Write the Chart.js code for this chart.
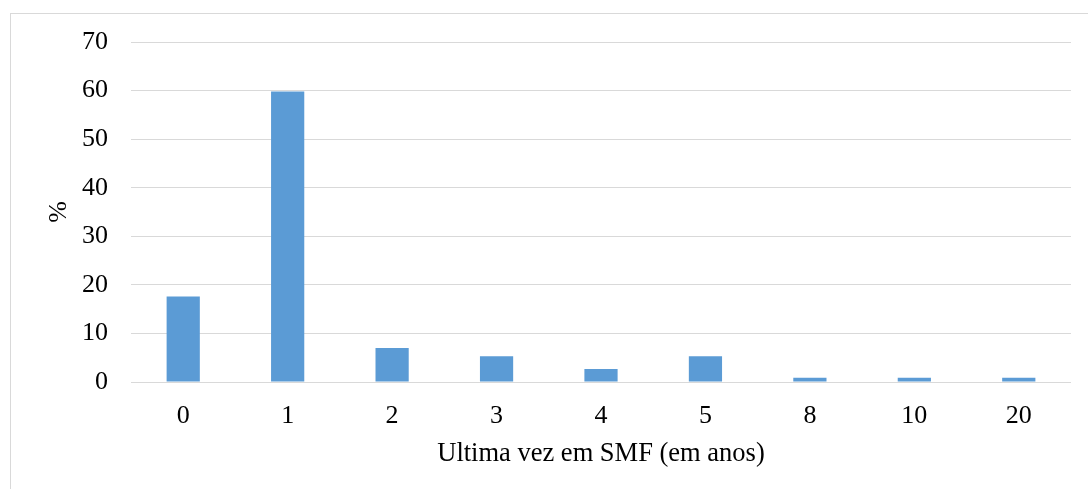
<!DOCTYPE html>
<html>
<head>
<meta charset="utf-8">
<script src="https://cdn.jsdelivr.net/npm/chart.js@4"></script>
<style>
  body { margin: 0; background: #fff; overflow: hidden; }
  #wrap { position: absolute; left: 0; top: 0; width: 1088px; height: 489px; }
  #frame { position: absolute; left: 10px; top: 13px; width: 1100px; height: 500px; border: 1px solid #d9d9d9; pointer-events: none; }
</style>
</head>
<body>
<div id="wrap"><canvas id="myChart" width="1088" height="489"></canvas></div>
<div id="frame"></div>
<script>
// years since last visit, share of respondents (%)
const years = ['0', '1', '2', '3', '4', '5', '8', '10', '20'];
const percent = [17.6, 59.8, 7.0, 5.3, 2.7, 5.3, 0.9, 0.9, 0.9];
const yTicks = [0, 10, 20, 30, 40, 50, 60, 70];

const serif = 'Liberation Serif, Times New Roman, serif';

const ctx = document.getElementById('myChart').getContext('2d');
const myChart = new Chart(ctx, {
    type: 'bar',
    data: {
        labels: years,
        datasets: [{
            label: '%',
            data: percent,
            backgroundColor: '#5b9bd5',
            borderWidth: 0,
            categoryPercentage: 1,
            barPercentage: 0.318
        }]
    },
    options: {
        responsive: false,
        animation: false,
        layout: {
            padding: { top: 42, right: 17, left: 0, bottom: 0 }
        },
        plugins: {
            legend: { display: false },
            tooltip: { enabled: false }
        },
        scales: {
            x: {
                grid: { display: false },
                border: { display: false },
                ticks: {
                    color: '#000',
                    padding: 11,
                    font: { family: serif, size: 26 }
                },
                title: {
                    display: true,
                    text: 'Ultima vez em SMF (em anos)',
                    color: '#000',
                    padding: { top: 0, bottom: 19 },
                    font: { family: serif, size: 26.5 }
                },
                afterFit: function(scale) {
                    scale.height = 107;
                }
            },
            y: {
                min: 0,
                max: 70,
                afterBuildTicks: function(scale) {
                    scale.ticks = yTicks.map(v => ({ value: v }));
                },
                grid: {
                    color: '#d9d9d9',
                    lineWidth: 1,
                    drawTicks: false
                },
                border: { display: false },
                ticks: {
                    color: '#000',
                    padding: 23,
                    font: { family: serif, size: 26 }
                },
                title: {
                    display: true,
                    text: '%',
                    color: '#000',
                    padding: { top: 44, bottom: 0 },
                    font: { family: serif, size: 26 }
                },
                afterFit: function(scale) {
                    scale.width = 131;
                }
            }
        }
    }
});
</script>
</body>
</html>
